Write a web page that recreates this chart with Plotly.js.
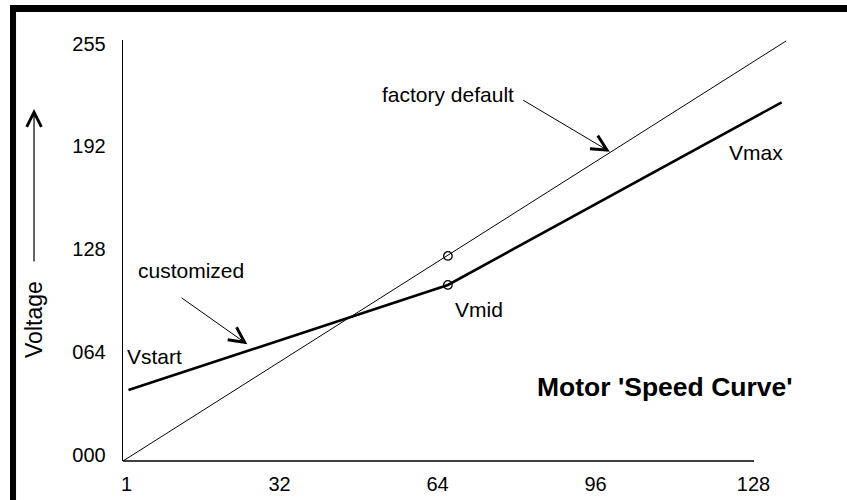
<!DOCTYPE html>
<html>
<head>
<meta charset="utf-8">
<script src="https://cdn.plot.ly/plotly-3.0.1.min.js"></script>
<style>
  html, body { margin: 0; padding: 0; background: #ffffff; }
  #chart { width: 847px; height: 500px; }
</style>
</head>
<body>
<div id="chart"></div>
<script>
// ---- data ----
const xTickVals = [1, 32, 64, 96, 128];
const xTickText = ['1', '32', '64', '96', '128'];
const yTickVals = [0, 64, 128, 192, 255];
const yTickText = ['000', '064', '128', '192', '255'];

// factory default (thin straight line)
const factoryX = [0.3, 134.6];
const factoryY = [-3.7, 256.9];

// customized curve (thick line): Vstart, Vmid, Vmax
const customX = [1.4, 66.1, 133.7];
const customY = [40.3, 105.5, 218.8];

// the two small circles at the Vmid step
const pointX = [66.1, 66.1];
const pointY = [123.5, 105.5];

// ---- styling ----
const FONT = 'Liberation Sans, Arial, Helvetica, sans-serif';
const X_RANGE = [0.29, 135.8];
const Y_RANGE = [-3.72, 257.5];
const X_AXIS_END = 128.1;

const traces = [
  {
    x: factoryX, y: factoryY, type: 'scatter', mode: 'lines',
    line: { color: '#000000', width: 1 }, hoverinfo: 'skip'
  },
  {
    x: customX, y: customY, type: 'scatter', mode: 'lines',
    line: { color: '#000000', width: 2.6 }, hoverinfo: 'skip'
  },
  {
    x: pointX, y: pointY, type: 'scatter', mode: 'markers',
    marker: { symbol: 'circle-open', size: 8.5, color: '#000000', line: { width: 1.3, color: '#000000' } },
    hoverinfo: 'skip', cliponaxis: false
  }
];

function label(text, x, y, size, bold) {
  return {
    x: x, y: y, xref: 'x', yref: 'y', text: bold ? '<b>' + text + '</b>' : text,
    showarrow: false, xanchor: 'center', yanchor: 'middle',
    font: { family: FONT, size: size, color: '#000000' }
  };
}

function arrow(xTip, yTip, xTail, yTail, size) {
  return {
    x: xTip, y: yTip, ax: xTail, ay: yTail,
    xref: 'x', yref: 'y', axref: 'x', ayref: 'y',
    text: '', showarrow: true, arrowhead: 5, arrowsize: size, arrowwidth: 1,
    arrowcolor: '#000000', standoff: 0, startstandoff: 0
  };
}

const annotations = [
  label('factory default', 66.2, 223.4, 21, false),
  label('Vmax', 128.5, 188.0, 21, false),
  label('Vmid', 72.4, 90.0, 21, false),
  label('Vstart', 6.61, 61.4, 21, false),
  label('customized', 14.06, 114.2, 21, false),
  label("Motor 'Speed Curve'", 110.1, 42.2, 26.5, true),
  arrow(98.9, 188.2, 81.05, 220.7, 3),
  arrow(25.47, 68.7, 11.84, 98.2, 3),
  // vertical arrow beside the axis title
  {
    x: -0.1330, y: 0.836, xref: 'paper', yref: 'paper',
    ax: 0, ay: 154, axref: 'pixel', ayref: 'pixel',
    text: '', showarrow: true, arrowhead: 5, arrowsize: 2.4, arrowwidth: 1.2,
    arrowcolor: '#000000', standoff: 0, startstandoff: 0
  },
  {
    x: -0.1330, y: 0.335, xref: 'paper', yref: 'paper',
    text: 'Voltage', textangle: -90, showarrow: false,
    xanchor: 'center', yanchor: 'middle',
    font: { family: FONT, size: 23, color: '#000000' }
  }
];

const shapes = [
  // x axis line (ends at 128)
  {
    type: 'line', xref: 'x', yref: 'paper',
    x0: X_RANGE[0], x1: X_AXIS_END, y0: 0, y1: 0,
    line: { color: '#000000', width: 1.3 }
  },
  // thick frame: top and left edges
  {
    type: 'rect', xref: 'paper', yref: 'paper',
    x0: -0.1689, x1: 1.1, y0: 1.0665, y1: 1.0831,
    fillcolor: '#000000', line: { width: 0 }
  },
  {
    type: 'rect', xref: 'paper', yref: 'paper',
    x0: -0.1689, x1: -0.1599, y0: -0.11, y1: 1.0831,
    fillcolor: '#000000', line: { width: 0 }
  }
];

const layout = {
  width: 847, height: 500,
  margin: { l: 123, r: 55, t: 40, b: 39, pad: 0 },
  paper_bgcolor: '#ffffff', plot_bgcolor: '#ffffff',
  showlegend: false, hovermode: false,
  font: { family: FONT, color: '#000000' },
  xaxis: {
    range: X_RANGE, showgrid: false, zeroline: false, showline: false,
    ticks: '', tickvals: xTickVals, ticktext: xTickText,
    tickfont: { family: FONT, size: 20, color: '#000000' },
    ticklabelstandoff: 9, fixedrange: true
  },
  yaxis: {
    range: Y_RANGE, showgrid: false, zeroline: false,
    showline: true, linecolor: '#000000', linewidth: 1.3,
    ticks: '', tickvals: yTickVals, ticktext: yTickText,
    tickfont: { family: FONT, size: 20, color: '#000000' },
    ticklabelstandoff: 12, fixedrange: true
  },
  annotations: annotations,
  shapes: shapes
};

Plotly.newPlot('chart', traces, layout, { displayModeBar: false, staticPlot: true });
</script>
</body>
</html>
